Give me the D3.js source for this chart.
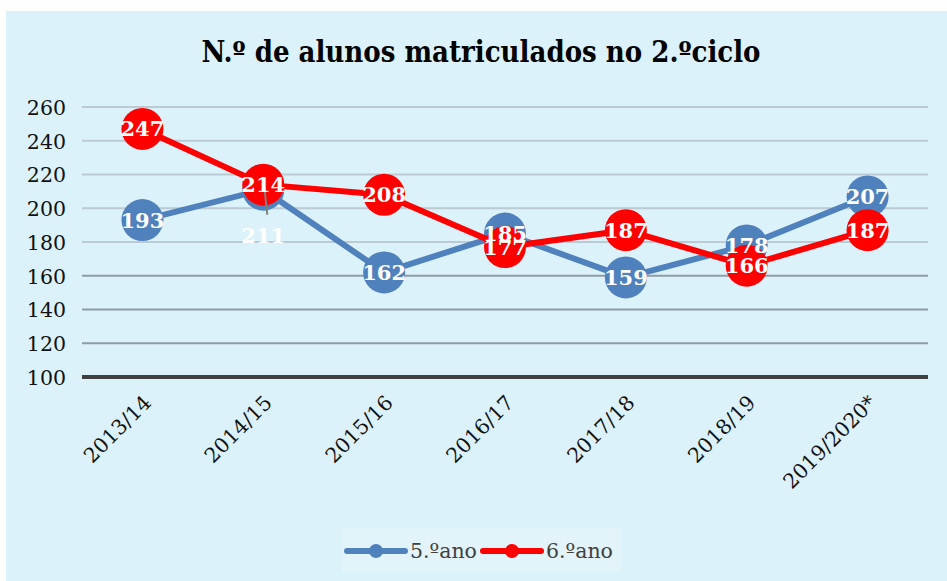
<!DOCTYPE html>
<html>
<head>
<meta charset="utf-8">
<script src="https://cdn.jsdelivr.net/npm/d3@7"></script>
<style>
  html, body { margin: 0; padding: 0; background: #ffffff; }
  svg { display: block; }
</style>
</head>
<body>
<svg id="chart" width="947" height="581"></svg>
<script>
"use strict";

var title = "N.º de alunos matriculados no 2.ºciclo";
var categories = ["2013/14", "2014/15", "2015/16", "2016/17", "2017/18", "2018/19", "2019/2020*"];
var ano5 = [193, 211, 162, 185, 159, 178, 207];
var ano6 = [247, 214, 208, 177, 187, 166, 187];
var seriesNames = ["5.ºano", "6.ºano"];
var yTicks = [100, 120, 140, 160, 180, 200, 220, 240, 260];

var width = 947
var height = 581
var margin = {top: 107, right: 19, bottom: 204, left: 82}
var colors = ["#4f81bd", "#ff0000"]
var serif = "'DejaVu Serif', 'Liberation Serif', serif"

var svg = d3.select("#chart")

// background panel
svg.append("rect")
    .attr("x", 6).attr("y", 11)
    .attr("width", width - 6).attr("height", height - 11)
    .attr("fill", "#dcf2fb")

svg.append("text")
    .attr("x", 481).attr("y", 62)
    .attr("text-anchor", "middle")
    .attr("font-family", "'DejaVu Serif Condensed', " + serif)
    .attr("font-weight", "bold")
    .attr("font-size", 29)
    .attr("fill", "#000")
    .text(title)

var x = d3.scaleBand()
    .domain(categories)
    .range([margin.left, width - margin.right])

var y = d3.scaleLinear()
    .domain([100, 260])
    .range([height - margin.bottom, margin.top])

var gridColor = d3.scaleThreshold().domain([170]).range(["#8e9ca6", "#bccad3"])

// gridlines
svg.append("g")
    .selectAll("line")
    .data(yTicks.filter(function(d) { return d > 100 }))
    .enter()
    .append("line")
    .attr("x1", margin.left).attr("x2", width - margin.right)
    .attr("y1", function(d) { return y(d) }).attr("y2", function(d) { return y(d) })
    .attr("stroke", function(d) { return gridColor(d) })
    .attr("stroke-width", 2)

// y axis labels
var yAxis = d3.axisLeft(y).tickValues(yTicks).tickSize(0).tickPadding(16)
var gy = svg.append("g")
    .attr("transform", "translate(" + margin.left + ",0)")
    .call(yAxis)
gy.select(".domain").remove()
gy.selectAll("text")
    .attr("font-family", serif)
    .attr("font-size", 20.5)
    .attr("fill", "#111")
    .attr("dy", "0.36em")

// baseline
svg.append("line")
    .attr("x1", margin.left).attr("x2", width - margin.right)
    .attr("y1", y(100)).attr("y2", y(100))
    .attr("stroke", "#404040")
    .attr("stroke-width", 4)

// x axis labels
var xAxis = d3.axisBottom(x).tickSize(0).tickPadding(0)
var gx = svg.append("g")
    .attr("transform", "translate(0," + y(100) + ")")
    .call(xAxis)
gx.select(".domain").remove()
gx.selectAll("text")
    .attr("font-family", serif)
    .attr("font-size", 20.5)
    .attr("fill", "#111")
    .attr("text-anchor", "end")
    .attr("dy", 0)
    .attr("transform", "translate(10,27) rotate(-45)")

var cx = function(i) { return x(categories[i]) + x.bandwidth() / 2 }
var series = [ano5, ano6]

var line = d3.line()
    .x(function(d, i) { return cx(i) })
    .y(function(d) { return y(d) })

series.forEach(function(s, k) {
    var g = svg.append("g")
    g.append("path")
        .datum(s)
        .attr("d", line)
        .attr("fill", "none")
        .attr("stroke", colors[k])
        .attr("stroke-width", 6)
        .attr("stroke-linejoin", "round")
    g.selectAll("circle")
        .data(s)
        .enter()
        .append("circle")
        .attr("cx", function(d, i) { return cx(i) })
        .attr("cy", function(d) { return y(d) })
        .attr("r", 21)
        .attr("fill", colors[k])
})

// label moved off its point (211 in 2014/15), with leader line
var moved = {series: 0, index: 1, dx: 0, dy: 46}

svg.append("line")
    .attr("x1", cx(moved.index) + 1).attr("y1", y(series[moved.series][moved.index]) - 3)
    .attr("x2", cx(moved.index) + 4).attr("y2", y(series[moved.series][moved.index]) + 25)
    .attr("stroke", "#7f7f7f")
    .attr("stroke-width", 2)

series.forEach(function(s, k) {
    svg.append("g")
        .selectAll("text")
        .data(s)
        .enter()
        .append("text")
        .attr("x", function(d, i) {
            return cx(i) + (k === moved.series && i === moved.index ? moved.dx : 0)
        })
        .attr("y", function(d, i) {
            return y(d) + (k === moved.series && i === moved.index ? moved.dy : 0)
        })
        .attr("dy", "0.36em")
        .attr("text-anchor", "middle")
        .attr("font-family", serif)
        .attr("font-weight", "bold")
        .attr("font-size", 21)
        .attr("fill", "#fff")
        .text(function(d) { return d })
})

// legend
var legend = svg.append("g")
legend.append("rect")
    .attr("x", 342).attr("y", 528)
    .attr("width", 280).attr("height", 44)
    .attr("fill", "#e3f3fa")

var legendX = [347, 483]
seriesNames.forEach(function(name, k) {
    var lx = legendX[k]
    legend.append("line")
        .attr("x1", lx).attr("x2", lx + 58)
        .attr("y1", 551).attr("y2", 551)
        .attr("stroke", colors[k])
        .attr("stroke-width", 6)
        .attr("stroke-linecap", "round")
    legend.append("circle")
        .attr("cx", lx + 29).attr("cy", 551)
        .attr("r", 7)
        .attr("fill", colors[k])
    legend.append("text")
        .attr("x", lx + 63).attr("y", 551)
        .attr("dy", "0.36em")
        .attr("font-family", serif)
        .attr("font-size", 20.5)
        .attr("fill", "#404040")
        .text(name)
})
</script>
</body>
</html>
